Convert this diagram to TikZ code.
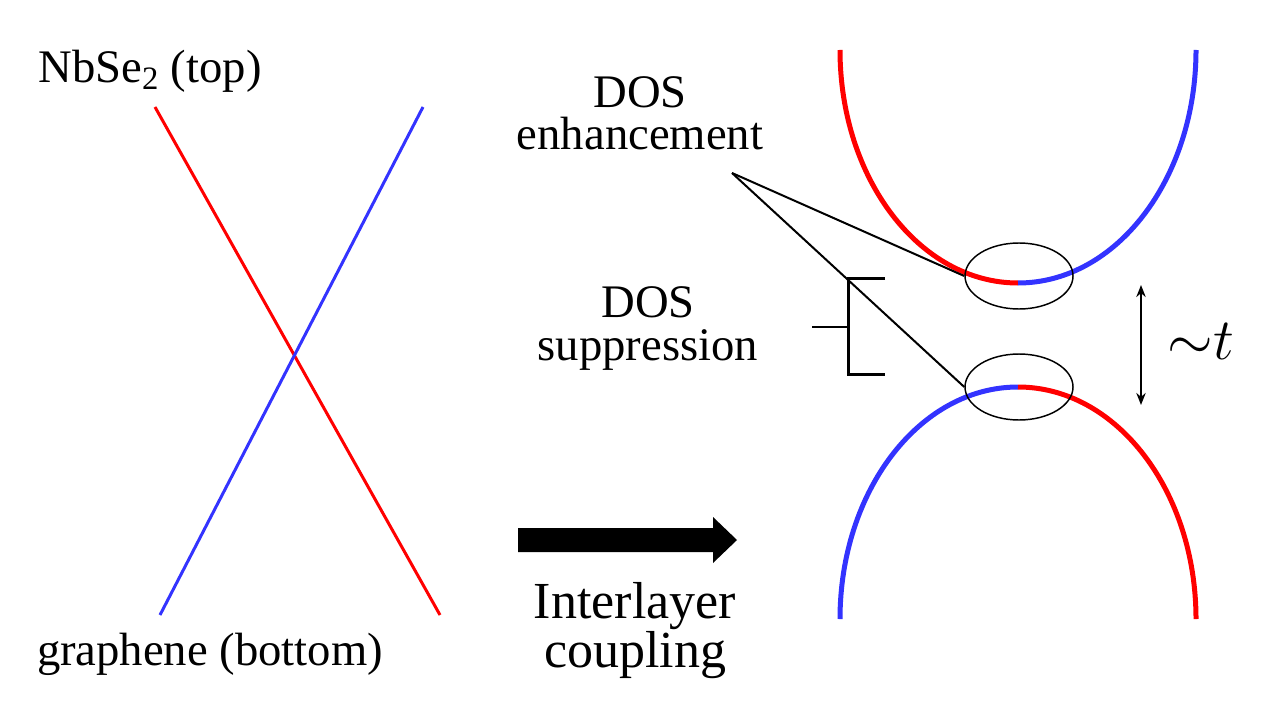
\RequirePackage{fix-cm}
\documentclass[tikz,border=0pt]{standalone}
\usepackage{fontspec}
\setmainfont{Liberation Serif}
\usepackage{amsmath}
\usepackage{xcolor}
\usetikzlibrary{shapes.geometric,arrows.meta}

\definecolor{bandred}{RGB}{255,0,0}
\definecolor{bandblue}{RGB}{51,51,255}

\begin{document}
\begin{tikzpicture}[x=0.75pt,y=0.75pt,yscale=-1,xscale=1,
  lbl/.style={inner sep=0.75pt,align=center,font=\fontsize{35}{32}\selectfont},
  spot/.style={draw,ellipse,line width=1.1pt,minimum width=81pt,minimum height=49.5pt,inner sep=0pt},
  band/.style={line width=3.75pt},
  lead/.style={line width=1.5pt}]
  \useasboundingbox (0,0) rectangle (1280,720);

  %Straight Lines: NbSe2 band
  \draw [bandred,line width=2.25pt]  (155,107) -- (440,615) ;
  %Straight Lines: graphene band
  \draw [bandblue,line width=2.25pt]  (423,107) -- (160,615) ;

  %Shape: thick arrow
  \fill (518,528) -- (713,528) -- (713,517) -- (737,540) -- (713,563) -- (713,552) -- (518,552) -- cycle ;

  %Curve Lines: upper band
  \draw [band,bandred]  (840,50) arc [start angle=180,end angle=90,x radius=133.5pt,y radius=174.75pt] ;
  \draw [band,bandblue]  (1018,283) arc [start angle=90,end angle=0,x radius=133.5pt,y radius=174.75pt] ;
  %Curve Lines: lower band
  \draw [band,bandblue]  (840,619) arc [start angle=180,end angle=270,x radius=133.5pt,y radius=174pt] ;
  \draw [band,bandred]  (1018,387) arc [start angle=270,end angle=360,x radius=133.5pt,y radius=174pt] ;

  %Shape: Ellipses
  \node [spot] (upspot) at (1019,276) {};
  \node [spot] (lowspot) at (1019,387) {};

  %Straight Lines: leaders
  \coordinate (enh) at (732,173);
  \draw [lead]  (enh) -- (upspot.west) ;
  \draw [lead]  (enh) -- (lowspot.west) ;

  %Straight Lines: bracket
  \draw [line width=2.25pt]  (885,278) -- (848,278) -- (848,374) -- (885,374) ;
  \coordinate (brk) at (848,327);
  \coordinate (brkend) at (812,327);
  \draw [lead]  (brkend) -- (brk) ;

  %Straight Lines: gap arrow
  \coordinate (gaptop) at (1141,285);
  \coordinate (gapbot) at (1141,405);
  \draw [lead,{Stealth[length=9pt,width=7pt]}-{Stealth[length=9pt,width=7pt]}]  (gaptop) -- (gapbot) ;

  % Text Node
  \draw (150,83) node [lbl,anchor=base] (top) {NbSe\textsubscript{2} (top)};
  % Text Node
  \draw (210,665) node [lbl,anchor=base] (bottom) {graphene (bottom)};
  % Text Node
  \draw (640,150) node [lbl,anchor=base] (enhtxt) {DOS\\enhancement};
  % Text Node
  \draw (648,360) node [lbl,anchor=base] (suptxt) {DOS\\suppression};
  % Text Node
  \draw (635,667) node [lbl,anchor=base,font=\fontsize{39}{35}\selectfont] (coupling) {Interlayer\\coupling};
  % Text Node
  \draw (1201,359) node [anchor=base,inner sep=0.75pt,font=\fontsize{44}{44}\selectfont] (gap) {${\sim}t$};

\end{tikzpicture}
\end{document}
